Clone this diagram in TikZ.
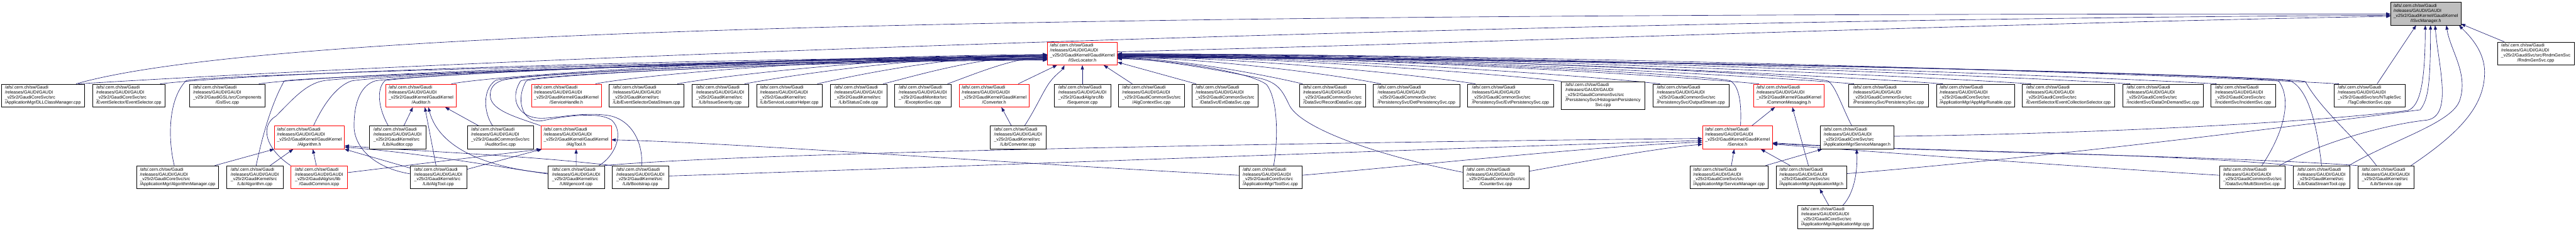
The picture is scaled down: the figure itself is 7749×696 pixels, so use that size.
\documentclass[tikz,border=0pt]{standalone}
\usepackage{fontspec}
\setmainfont{Liberation Sans}
\usetikzlibrary{arrows.meta}
\definecolor{edgeblue}{HTML}{191970}
\definecolor{rootgray}{HTML}{BFBFBF}
\definecolor{nodered}{HTML}{FF0000}
\newcommand{\nfont}{\fontsize{13.2}{14.9}\selectfont}
\newcommand{\glab}[2]{\begin{tabular}{@{}l@{}}/afs/.cern.ch/sw/Gaudi\\/releases/GAUDI/GAUDI\\\_v25r2/#1\\\multicolumn{1}{@{}c@{}}{#2}\end{tabular}}
\pgfdeclarelayer{bg}
\pgfsetlayers{bg,main}
\tikzset{
  nbox/.style={draw=black, fill=white, line width=1pt, inner sep=0pt, minimum height=69.5pt, font=\nfont, text=black},
  rbox/.style={nbox, draw=nodered},
  gbox/.style={nbox, fill=rootgray},
  dep/.style={draw=edgeblue, line width=1.2pt, -{Triangle[length=13pt,width=9.5pt]}},
}
\begin{document}
\begin{tikzpicture}[x=1pt,y=-1pt]
\begin{pgfonlayer}{bg}
\fill[white] (0,0) rectangle (7749,696);
\end{pgfonlayer}
\useasboundingbox (0,0) rectangle (7749,696);

% row 0 / 1
\node[gbox, minimum width=211.1pt] (n0) at (7297.05,41.1) {\glab{GaudiKernel/GaudiKernel}{/ISvcManager.h}};
\node[rbox, minimum width=210.6pt] (svcloc) at (3255.9,161.1) {\glab{GaudiKernel/GaudiKernel}{/ISvcLocator.h}};
\node[nbox, minimum width=230.6pt] (rndm) at (7627.8,161.1) {\glab{GaudiSvc/src/RndmGenSvc}{/RndmGenSvc.cpp}};

% row 2
\node[nbox, minimum width=249.6pt] (dll) at (129,287.9) {\glab{GaudiCoreSvc/src}{/ApplicationMgr/DLLClassManager.cpp}};
\node[nbox, minimum width=219.3pt] (evsel) at (387.45,287.9) {\glab{GaudiCoreSvc/src}{/EventSelector/EventSelector.cpp}};
\node[nbox, minimum width=225.8pt] (gsl) at (683.7,287.9) {\glab{GaudiGSL/src/Components}{/GslSvc.cpp}};
\node[rbox, minimum width=210.7pt] (audh) at (1266.45,287.9) {\glab{GaudiKernel/GaudiKernel}{/Auditor.h}};
\node[rbox, minimum width=210.9pt] (svch) at (1703.65,287.9) {\glab{GaudiKernel/GaudiKernel}{/ServiceHandle.h}};
\node[nbox, minimum width=224.5pt] (esds) at (1944.95,287.9) {\glab{GaudiKernel/src}{/Lib/EventSelectorDataStream.cpp}};
\node[nbox, minimum width=169.7pt] (issue) at (2166.45,287.9) {\glab{GaudiKernel/src}{/Lib/IssueSeverity.cpp}};
\node[nbox, minimum width=197.4pt] (slh) at (2374.4,287.9) {\glab{GaudiKernel/src}{/Lib/ServiceLocatorHelper.cpp}};
\node[nbox, minimum width=170.3pt] (status) at (2582.65,287.9) {\glab{GaudiKernel/src}{/Lib/StatusCode.cpp}};
\node[nbox, minimum width=169.2pt] (excsvc) at (2775.9,287.9) {\glab{GaudiMonitor/src}{/ExceptionSvc.cpp}};
\node[rbox, minimum width=210.8pt] (convh) at (2990.4,287.9) {\glab{GaudiKernel/GaudiKernel}{/Converter.h}};
\node[nbox, minimum width=169.4pt] (seq) at (3255.9,287.9) {\glab{GaudiAlg/src/lib}{/Sequencer.cpp}};
\node[nbox, minimum width=197.4pt] (algctx) at (3463.7,287.9) {\glab{GaudiCommonSvc/src}{/AlgContextSvc.cpp}};
\node[nbox, minimum width=197.4pt] (evtdata) at (3685.1,287.9) {\glab{GaudiCommonSvc/src}{/DataSvc/EvtDataSvc.cpp}};
\node[nbox, minimum width=198.7pt] (recdata) at (4007.95,287.9) {\glab{GaudiCommonSvc/src}{/DataSvc/RecordDataSvc.cpp}};
\node[nbox, minimum width=260.1pt] (detpers) at (4260.95,287.9) {\glab{GaudiCommonSvc/src}{/PersistencySvc/DetPersistencySvc.cpp}};
\node[nbox, minimum width=258.6pt] (evtpers) at (4543.9,287.9) {\glab{GaudiCommonSvc/src}{/PersistencySvc/EvtPersistencySvc.cpp}};
\node[nbox, minimum width=250.8pt, minimum height=84.3pt] (histpers) at (4822.2,287.65) {\begin{tabular}{@{}l@{}}/afs/.cern.ch/sw/Gaudi\\/releases/GAUDI/GAUDI\\\_v25r2/GaudiCommonSvc/src\\/PersistencySvc/HistogramPersistency\\\multicolumn{1}{@{}c@{}}{Svc.cpp}\end{tabular}};
\node[nbox, minimum width=227.9pt] (outstr) at (5086.45,287.9) {\glab{GaudiCommonSvc/src}{/PersistencySvc/OutputStream.cpp}};
\node[rbox, minimum width=210.9pt] (cmsg) at (5381.15,287.9) {\glab{GaudiKernel/GaudiKernel}{/CommonMessaging.h}};
\node[nbox, minimum width=239.3pt] (perssvc) at (5681.15,287.9) {\glab{GaudiCommonSvc/src}{/PersistencySvc/PersistencySvc.cpp}};
\node[nbox, minimum width=235.3pt] (apprun) at (5942.45,287.9) {\glab{GaudiCoreSvc/src}{/ApplicationMgr/AppMgrRunable.cpp}};
\node[nbox, minimum width=277.8pt] (evcoll) at (6222.2,287.9) {\glab{GaudiCoreSvc/src}{/EventSelector/EventCollectionSelector.cpp}};
\node[nbox, minimum width=241.4pt] (dod) at (6506.6,287.9) {\glab{GaudiCoreSvc/src}{/IncidentSvc/DataOnDemandSvc.cpp}};
\node[nbox, minimum width=193.6pt] (incsvc) at (6747.7,287.9) {\glab{GaudiCoreSvc/src}{/IncidentSvc/IncidentSvc.cpp}};
\node[nbox, minimum width=213.5pt] (tagcoll) at (7127.65,287.9) {\glab{GaudiSvc/src/NTupleSvc}{/TagCollectionSvc.cpp}};

% row 3
\node[rbox, minimum width=210.9pt] (algh) at (930.65,414.4) {\glab{GaudiKernel/GaudiKernel}{/Algorithm.h}};
\node[nbox, minimum width=169.6pt] (audcpp) at (1195.8,414.4) {\glab{GaudiKernel/src}{/Lib/Auditor.cpp}};
\node[nbox, minimum width=197.8pt] (audsvc) at (1505.2,414.4) {\glab{GaudiCommonSvc/src}{/AuditorSvc.cpp}};
\node[rbox, minimum width=210.9pt] (algtoolh) at (1733.15,414.4) {\glab{GaudiKernel/GaudiKernel}{/AlgTool.h}};
\node[nbox, minimum width=169.6pt] (convcpp) at (3062.4,414.4) {\glab{GaudiKernel/src}{/Lib/Converter.cpp}};
\node[rbox, minimum width=210.8pt] (serviceh) at (5226.7,414.4) {\glab{GaudiKernel/GaudiKernel}{/Service.h}};
\node[nbox, minimum width=221.4pt] (svcmgrh) at (5586.4,414.4) {\glab{GaudiCoreSvc/src}{/ApplicationMgr/ServiceManager.h}};

% row 4
\node[nbox, minimum width=247.1pt] (algmgr) at (534.35,534.2) {\glab{GaudiCoreSvc/src}{/ApplicationMgr/AlgorithmManager.cpp}};
\node[nbox, minimum width=169.6pt] (algcpp) at (766.5,534.2) {\glab{GaudiKernel/src}{/Lib/Algorithm.cpp}};
\node[rbox, minimum width=170pt] (gcommon) at (959.9,534.2) {\glab{GaudiAlg/src/lib}{/GaudiCommon.icpp}};
\node[nbox, minimum width=169.8pt] (algtoolcpp) at (1318.4,534.2) {\glab{GaudiKernel/src}{/Lib/AlgTool.cpp}};
\node[nbox, minimum width=169.6pt] (genconf) at (1733.1,534.2) {\glab{GaudiKernel/src}{/Util/genconf.cpp}};
\node[nbox, minimum width=169.8pt] (boot) at (1926.4,534.2) {\glab{GaudiKernel/src}{/Lib/Bootstrap.cpp}};
\node[nbox, minimum width=189.6pt] (toolsvc) at (3821.4,534.2) {\glab{GaudiCoreSvc/src}{/ApplicationMgr/ToolSvc.cpp}};
\node[nbox, minimum width=198pt] (countersvc) at (4500.1,534.2) {\glab{GaudiCommonSvc/src}{/CounterSvc.cpp}};
\node[nbox, minimum width=234.3pt] (svcmgrcpp) at (5201.15,534.2) {\glab{GaudiCoreSvc/src}{/ApplicationMgr/ServiceManager.cpp}};
\node[nbox, minimum width=213.5pt] (appmgrh) at (5448.95,534.2) {\glab{GaudiCoreSvc/src}{/ApplicationMgr/ApplicationMgr.h}};
\node[nbox, minimum width=197.4pt] (multistore) at (6775.7,534.2) {\glab{GaudiCommonSvc/src}{/DataSvc/MultiStoreSvc.cpp}};
\node[nbox, minimum width=169.7pt] (dstool) at (6983.65,534.2) {\glab{GaudiKernel/src}{/Lib/DataStreamTool.cpp}};
\node[nbox, minimum width=169.1pt] (servicecpp) at (7177.05,534.2) {\glab{GaudiKernel/src}{/Lib/Service.cpp}};

% row 5
\node[nbox, minimum width=226.5pt] (appmgrcpp) at (5521.15,654.5) {\glab{GaudiCoreSvc/src}{/ApplicationMgr/ApplicationMgr.cpp}};

\begin{pgfonlayer}{bg}
% ---- into ISvcLocator.h from the left
\draw[dep] ([xshift=94.5pt]evsel.north) .. controls (800,215) and (2300,172) .. ([yshift=-11pt]svcloc.west);
\draw[dep] ([xshift=95pt]gsl.north) .. controls (1000,222) and (2300,175) .. ([yshift=-13pt]svcloc.west);
\draw[dep] ([xshift=-10pt]algmgr.north) .. controls (505,420) and (505,300) .. (560,243) .. controls (620,225) and (2300,178) .. ([yshift=-15pt]svcloc.west);
\draw[dep] ([xshift=4pt]algcpp.north) .. controls (785,430) and (812,320) .. (855,244) .. controls (900,232) and (2300,180) .. ([yshift=-17pt]svcloc.west);
\draw[dep] (gcommon.north west) .. controls (800,450) and (780,380) .. (830,350) .. controls (880,300) and (920,252) .. (975,243) .. controls (1100,225) and (2300,182) .. ([yshift=-19pt]svcloc.west);
\draw[dep] ([xshift=12.35pt]algh.north) .. controls (970,320) and (1010,260) .. (1057,244) .. controls (1150,226) and (2300,178) .. ([yshift=-9pt]svcloc.west);
\draw[dep] ([yshift=10.4pt]algtoolcpp.west) .. controls (1120,505) and (1065,440) .. (1065,380) .. controls (1065,300) and (1090,256) .. (1128,244) .. controls (1200,228) and (2300,176) .. ([yshift=-7pt]svcloc.west);
\draw[dep] ([xshift=-27.8pt]audcpp.north) .. controls (1140,330) and (1130,270) .. (1158,243) .. controls (1250,225) and (2300,175) .. ([yshift=-5pt]svcloc.west);
\draw[dep] ([xshift=91.5pt]audh.north) .. controls (1500,225) and (2400,170) .. ([yshift=-3pt]svcloc.west);
\draw[dep] ([xshift=-23.2pt]audsvc.north) .. controls (1455,340) and (1450,270) .. (1491,242) .. controls (1560,224) and (2400,178) .. ([yshift=-14pt]svcloc.west);
\draw[dep] (algtoolh.north west) .. controls (1560,355) and (1480,335) .. (1475,292) .. controls (1472,262) and (1490,248) .. (1515,241) .. controls (1600,222) and (2400,180) .. ([yshift=-16pt]svcloc.west);
\draw[dep] ([xshift=69pt]genconf.north) .. controls (1850,470) and (1880,400) .. (1840,362) .. controls (1800,335) and (1700,350) .. (1630,364) .. controls (1570,372) and (1550,300) .. (1583,244) .. controls (1620,226) and (2450,182) .. ([yshift=-18pt]svcloc.west);
\draw[dep] ([xshift=3.6pt]boot.north) .. controls (1935,430) and (1900,360) .. (1830,348) .. controls (1760,338) and (1700,352) .. (1640,356) .. controls (1560,362) and (1530,300) .. (1566,244) .. controls (1610,224) and (2450,184) .. ([yshift=-20pt]svcloc.west);
\draw[dep] ([xshift=87.75pt]svch.north) .. controls (1900,230) and (2500,172) .. ([yshift=-9pt]svcloc.west);
\draw[dep] ([xshift=93pt]esds.north) .. controls (2150,232) and (2650,170) .. ([yshift=-7pt]svcloc.west);
\draw[dep] ([xshift=73.5pt]issue.north) .. controls (2350,232) and (2750,168) .. ([yshift=-5pt]svcloc.west);
\draw[dep] ([xshift=84.4pt]slh.north) .. controls (2550,232) and (2850,166) .. ([yshift=-4pt]svcloc.west);
\draw[dep] ([xshift=74.2pt]status.north) .. controls (2750,230) and (2950,168) .. ([yshift=-8pt]svcloc.west);
\draw[dep] ([xshift=74.5pt]excsvc.north) .. controls (2920,228) and (3050,172) .. ([yshift=-12pt]svcloc.west);
% ---- into ISvcLocator.h from below
\draw[dep] ([xshift=72.6pt]convh.north) -- ([xshift=-76pt]svcloc.south);
\draw[dep] ([xshift=19.6pt]convcpp.north) .. controls (3120,320) and (3140,270) .. (3160,245) .. controls (3175,225) and (3195,212) .. ([xshift=-54pt]svcloc.south);
\draw[dep] (seq.north) -- (svcloc.south);
\draw[dep] ([xshift=-57.7pt]algctx.north) -- ([xshift=64pt]svcloc.south);
\draw[dep] ([xshift=-87.3pt]evtdata.north) -- (svcloc.-14);
% ---- into ISvcLocator.h from the right
\draw[dep] ([xshift=-90pt]recdata.north) .. controls (3834,232) and (3556,176) .. ([yshift=-14pt]svcloc.east);
\draw[dep] ([xshift=-107.3pt]detpers.north) .. controls (4035,228) and (3640,174) .. ([yshift=-12pt]svcloc.east);
\draw[dep] ([xshift=-106.2pt]evtpers.north) .. controls (4275,226) and (3738,172) .. ([yshift=-10pt]svcloc.east);
\draw[dep] (histpers.north west) .. controls (4500,222) and (3830,171) .. ([yshift=-8pt]svcloc.east);
\draw[dep] ([xshift=-93pt]outstr.north) .. controls (4750,225) and (3930,170) .. ([yshift=-7pt]svcloc.east);
\draw[dep] ([xshift=-90.6pt]cmsg.north) .. controls (5000,225) and (4036,169) .. ([yshift=-6pt]svcloc.east);
\draw[dep] ([xshift=-104.5pt]perssvc.north) .. controls (5245,225) and (4136,168) .. ([yshift=-5pt]svcloc.east);
\draw[dep] ([xshift=-98.5pt]apprun.north) .. controls (5472,225) and (4230,167) .. ([yshift=-4pt]svcloc.east);
\draw[dep] ([xshift=-112.8pt]evcoll.north) .. controls (5697,225) and (4323,166) .. ([yshift=-3pt]svcloc.east);
\draw[dep] ([xshift=-98.6pt]dod.north) .. controls (5951,225) and (4427,165) .. ([yshift=-2pt]svcloc.east);
\draw[dep] ([xshift=-80.4pt]incsvc.north) .. controls (6171,225) and (4518,164) .. ([yshift=-1pt]svcloc.east);
\draw[dep] ([xshift=-92pt]tagcoll.north) .. controls (6500,222) and (4647,163) .. ([yshift=-1.5pt]svcloc.east);
\draw[dep] ([xshift=9pt]serviceh.north) .. controls (5240,300) and (5228,256) .. (5204,243) .. controls (5100,222) and (4100,172) .. ([yshift=-6.5pt]svcloc.east);
\draw[dep] ([xshift=-16pt]svcmgrh.north) .. controls (5540,320) and (5522,260) .. (5499,244) .. controls (5400,222) and (4300,170) .. ([yshift=-5.5pt]svcloc.east);
\draw[dep] ([xshift=10pt]toolsvc.north) .. controls (3845,420) and (3845,300) .. (3810,255) .. controls (3760,215) and (3500,178) .. ([yshift=-16pt]svcloc.east);
\draw[dep] ([yshift=15pt]countersvc.west) .. controls (4150,470) and (3920,390) .. (3880,320) .. controls (3860,280) and (3850,250) .. (3790,236) .. controls (3650,208) and (3480,178) .. ([yshift=-15pt]svcloc.east);
\draw[dep] ([xshift=28.3pt]multistore.north) .. controls (6870,400) and (6895,300) .. (6855,245) .. controls (6800,225) and (4800,175) .. ([yshift=-9pt]svcloc.east);
\draw[dep] (dstool.north) .. controls (6970,380) and (6945,270) .. (6890,244) .. controls (6800,225) and (4850,176) .. ([yshift=-11pt]svcloc.east);
\draw[dep] ([xshift=-28.5pt]servicecpp.north) .. controls (7090,420) and (6980,330) .. (6935,246) .. controls (6880,228) and (4900,177) .. ([yshift=-13pt]svcloc.east);
% ---- into ISvcManager.h
\draw[dep] ([xshift=100pt]dll.north) .. controls (900,60) and (4000,42) .. ([yshift=-1pt]n0.west);
\draw[dep] ([xshift=107pt]dll.north) .. controls (1500,175) and (4500,60) .. ([yshift=-5pt]n0.west);
\draw[dep] ([yshift=5pt]svcloc.east) .. controls (4500,128) and (6000,70) .. ([yshift=-8pt]n0.west);
\draw[dep] ([xshift=23pt]tagcoll.north) -- ([xshift=-29pt]n0.south);
\draw[dep] ([yshift=3.8pt]svcmgrh.east) .. controls (6200,405) and (6900,375) .. (7243,333) .. controls (7280,320) and (7295,250) .. ([xshift=-1.5pt]n0.south);
\draw[dep] ([yshift=11pt]appmgrh.east) .. controls (6200,470) and (6900,380) .. (7280,331) .. controls (7305,300) and (7311,250) .. ([xshift=14.3pt]n0.south);
\draw[dep] ([xshift=81pt]multistore.north) .. controls (7000,420) and (7200,372) .. (7300,362) .. controls (7380,350) and (7335,200) .. ([xshift=28pt]n0.south);
\draw[dep] ([xshift=82pt]dstool.north) .. controls (7200,420) and (7380,370) .. (7400,300) .. controls (7425,220) and (7370,150) .. ([xshift=62pt]n0.south);
\draw[dep] ([xshift=75.5pt]servicecpp.north) .. controls (7400,400) and (7472,320) .. (7474,222) .. controls (7476,150) and (7420,100) .. ([xshift=-6pt]n0.south east);
\draw[dep] ([xshift=-94.8pt]rndm.north) -- ([yshift=-31pt]n0.east);
% ---- into Service.h
\draw[dep] ([yshift=6pt]toolsvc.east) .. controls (4300,495) and (4800,440) .. ([yshift=-14pt]serviceh.west);
\draw[dep] ([yshift=18pt]countersvc.east) .. controls (4800,480) and (5000,445) .. ([yshift=-20.6pt]serviceh.west);
\draw[dep] (genconf.north east) .. controls (2300,455) and (4300,425) .. ([yshift=-3pt]serviceh.west);
\draw[dep] ([yshift=3.8pt]boot.east) .. controls (2800,505) and (4400,445) .. ([yshift=-9pt]serviceh.west);
\draw[dep] ([xshift=7pt]svcmgrcpp.north) -- ([xshift=-10pt]serviceh.south);
\draw[dep] ([xshift=-64pt]appmgrh.north) -- ([xshift=70pt]serviceh.south);
\draw[dep] ([yshift=6pt]multistore.west) .. controls (6300,505) and (5800,470) .. ([yshift=-20pt]serviceh.east);
\draw[dep] (dstool.north west) .. controls (6500,460) and (5700,455) .. ([yshift=-16pt]serviceh.east);
\draw[dep] (servicecpp.north west) .. controls (6700,470) and (5800,458) .. ([yshift=-18pt]serviceh.east);
% ---- ServiceManager.h, ApplicationMgr.h, CommonMessaging.h
\draw[dep] ([xshift=110pt]svcmgrcpp.north) -- ([xshift=6pt]svcmgrh.south west);
\draw[dep] ([xshift=22pt]appmgrcpp.north) .. controls (5580,580) and (5588,510) .. ([xshift=-1.4pt]svcmgrh.south);
\draw[dep] ([xshift=-20pt]appmgrcpp.north) -- ([xshift=25pt]appmgrh.south);
\draw[dep] ([xshift=-9pt]appmgrh.north) -- ([xshift=10.5pt]cmsg.south);
\draw[dep] ([xshift=42.7pt]serviceh.north) -- ([xshift=-42pt]cmsg.south);
% ---- Algorithm.h
\draw[dep] ([xshift=111.6pt]algmgr.north) -- (algh.south west);
\draw[dep] ([xshift=46pt]algcpp.north) -- ([xshift=-48.6pt]algh.south);
\draw[dep] ([xshift=-8.4pt]gcommon.north) -- ([xshift=10.4pt]algh.south);
\draw[dep] ([yshift=28pt]algtoolcpp.west) -- (algh.south east);
\draw[dep] ([yshift=10pt]genconf.west) .. controls (1450,495) and (1250,460) .. ([yshift=-29pt]algh.east);
\draw[dep] (boot.north west) .. controls (1600,470) and (1300,458) .. ([yshift=-25pt]algh.east);
% ---- Auditor.h
\draw[dep] ([xshift=19pt]audcpp.north) -- ([xshift=-24.5pt]audh.south);
\draw[dep] ([xshift=-65pt]audsvc.north) -- ([xshift=72.5pt]audh.south);
\draw[dep] ([xshift=-6.8pt]algtoolcpp.north) -- ([xshift=11.5pt]audh.south);
\draw[dep] ([yshift=12pt]genconf.west) .. controls (1460,505) and (1320,445) .. ([xshift=22pt]audh.south);
% ---- AlgTool.h
\draw[dep] ([yshift=23.7pt]algtoolcpp.east) -- ([xshift=3pt]algtoolh.south west);
\draw[dep] ([yshift=14pt]gcommon.east) -- (algtoolh.south west);
\draw[dep] (genconf.north) -- (algtoolh.south);
\draw[dep] ([yshift=6pt]toolsvc.west) .. controls (3000,490) and (2200,430) .. ([yshift=-7pt]algtoolh.east);
% ---- Converter.h
\draw[dep] ([xshift=-20pt]convcpp.north) -- ([xshift=22pt]convh.south);
\end{pgfonlayer}
\end{tikzpicture}
\end{document}
